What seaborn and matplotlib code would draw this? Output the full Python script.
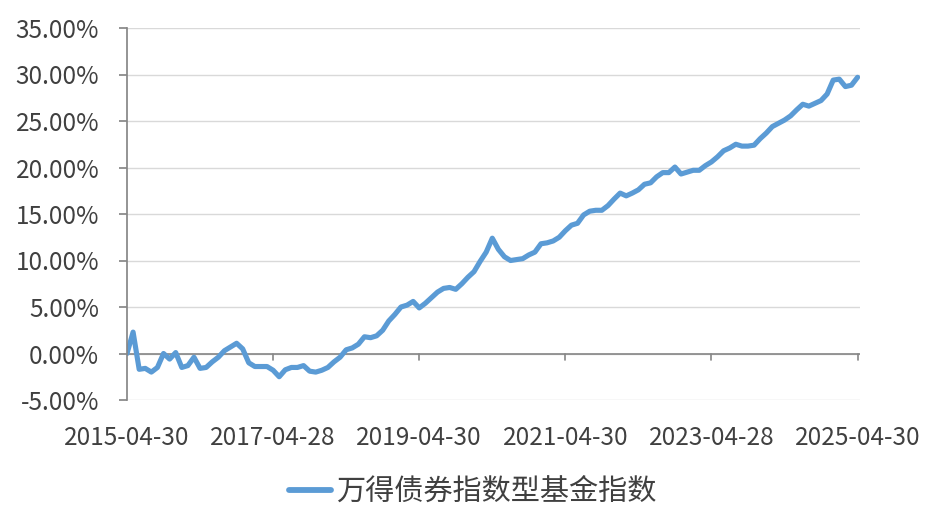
import numpy as np
import pandas as pd
import seaborn as sns
import matplotlib
matplotlib.use('Agg')
import matplotlib.pyplot as plt
from matplotlib.ticker import FuncFormatter

SERIES_NAME = '万得债券指数型基金指数'
LINE_COLOR = '#5B9BD5'

# monthly index return (%), 2015-04-30 .. 2025-04-30
returns = [
    0.0, 2.3, -1.7, -1.6, -2.0, -1.5, 0.0, -0.6, 0.1, -1.5,
    -1.3, -0.4, -1.6, -1.5, -0.9, -0.4, 0.3, 0.7, 1.1, 0.5,
    -1.0, -1.4, -1.4, -1.4, -1.8, -2.5, -1.75, -1.5, -1.5, -1.3,
    -1.9, -2.0, -1.8, -1.5, -0.9, -0.4, 0.4, 0.6, 1.0, 1.8,
    1.7, 1.9, 2.5, 3.5, 4.2, 5.0, 5.2, 5.6, 4.9, 5.4,
    6.0, 6.6, 7.0, 7.1, 6.9, 7.5, 8.2, 8.8, 9.9, 10.9,
    12.4, 11.2, 10.4, 10.0, 10.1, 10.2, 10.6, 10.9, 11.8, 11.9,
    12.1, 12.5, 13.2, 13.8, 14.0, 14.9, 15.3, 15.4, 15.4, 15.9,
    16.6, 17.25, 16.95, 17.25, 17.6, 18.2, 18.35, 19.0, 19.45, 19.45,
    20.05, 19.3, 19.5, 19.7, 19.7, 20.2, 20.6, 21.15, 21.8, 22.1,
    22.5, 22.3, 22.3, 22.4, 23.1, 23.7, 24.4, 24.75, 25.1, 25.55,
    26.2, 26.8, 26.6, 26.9, 27.2, 27.9, 29.4, 29.5, 28.7, 28.85,
    29.7,
]
tick_labels = ['2015-04-30', '2017-04-28', '2019-04-30',
               '2021-04-30', '2023-04-28', '2025-04-30']
tick_step = 24  # months between labelled dates
y_ticks = [-5, 0, 5, 10, 15, 20, 25, 30, 35]


def main():
    df = pd.DataFrame({'month': np.arange(len(returns)), 'ret': returns,
                       'series': SERIES_NAME})

    sns.set_theme(style='white')
    plt.rcParams['font.family'] = ['Noto Sans CJK SC', 'DejaVu Sans']
    text_color = '#404040'

    fig = plt.figure(figsize=(9.45, 5.32), dpi=100)
    ax = fig.add_axes([127 / 945, 1 - 400 / 532, (860 - 127) / 945, (400 - 28) / 532])

    sns.lineplot(data=df, x='month', y='ret', hue='series', palette=[LINE_COLOR],
                 linewidth=3.7, ax=ax, legend=False)

    ax.set_ylim(-5, 35)
    ax.set_xlim(0, len(returns) - 1 + 0.4)
    ax.set_yticks(y_ticks)
    ax.yaxis.set_major_formatter(FuncFormatter(lambda v, _: f'{v:.2f}%'))
    ax.set_xticks(np.arange(0, len(returns), tick_step))
    ax.set_xticklabels([])
    ax.grid(axis='y', color='#D9D9D9', linewidth=1.0)
    ax.set_axisbelow(True)
    for side in ('top', 'right', 'bottom'):
        ax.spines[side].set_visible(False)
    ax.spines['left'].set_color('#868686')
    ax.axhline(0, color='#868686', linewidth=1.2, zorder=1.5)
    ax.tick_params(axis='y', left=True, length=6, color='#868686',
                   labelsize=17.5, labelcolor=text_color, pad=14)
    ax.tick_params(axis='x', bottom=False)
    # x ticks sit on the zero line, labels below the plot
    for i, lab in zip(range(0, len(returns), tick_step), tick_labels):
        if i > 0:
            ax.plot([i, i], [0, -0.7], color='#868686', linewidth=1.2,
                    clip_on=False, zorder=1.5)
        ax.text(i, -7.7, lab, ha='center', va='top', fontsize=17.5,
                color=text_color)
    ax.set_xlabel('')
    ax.set_ylabel('')

    handle = plt.Line2D([], [], color=LINE_COLOR, linewidth=4.2)
    fig.legend([handle], [SERIES_NAME], loc='center', bbox_to_anchor=(0.5, 1 - 492 / 532),
               frameon=False, fontsize=21, labelcolor=text_color,
               handlelength=1.45, handletextpad=0.15)

    fig.savefig('out.png', dpi=100)


if __name__ == '__main__':
    main()
